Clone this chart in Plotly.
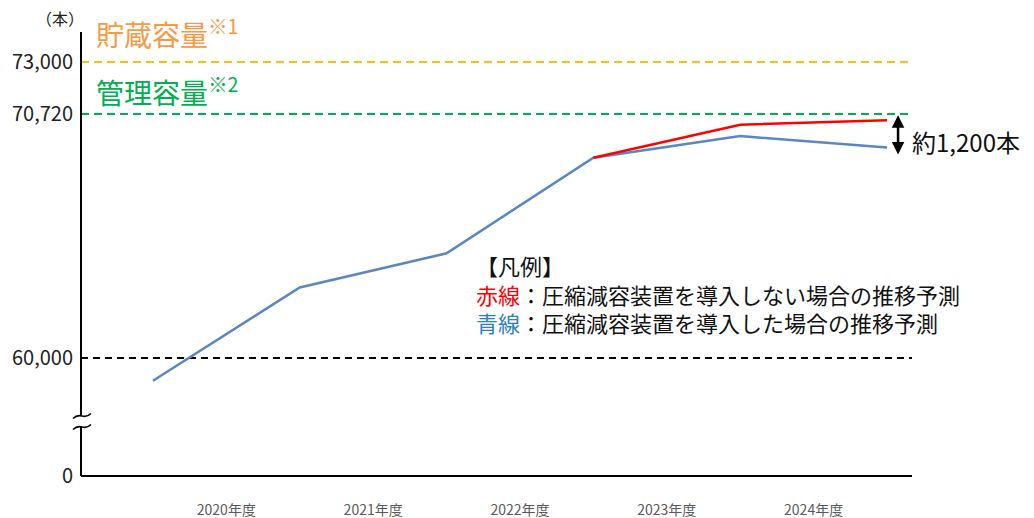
import plotly.graph_objects as go

# ---- data ----
years = ["2020年度", "2021年度", "2022年度", "2023年度", "2024年度"]
blue_values = [59000, 63100, 64600, 68800, 69750, 69250]   # with compression device
red_values = [None, None, None, 68800, 70250, 70450]       # without compression device
storage_capacity = 73000
management_capacity = 70720
base_line = 60000
y_tick_vals = [73000, 70720, 60000]
y_tick_text = ["73,000", "70,720", "60,000"]

# ---- geometry helpers (pixel -> paper) ----
W, H = 1034, 518
L, R, T, B = 81, 912, 32, 476
def px(p):
    return (p - L) / (R - L)
def py(p):
    return (B - p) / (B - T)

FONT = "Noto Sans CJK JP"

y_bottom = 54816
y_top = 74322
x_idx = list(range(len(blue_values)))

fig = go.Figure()

# reference lines
fig.add_shape(type="line", xref="paper", x0=0, x1=1, yref="y", y0=storage_capacity, y1=storage_capacity,
              line=dict(color="#FFC000", width=2, dash="8px,5px"), layer="below")
fig.add_shape(type="line", xref="paper", x0=0, x1=1, yref="y", y0=management_capacity, y1=management_capacity,
              line=dict(color="#00B050", width=2, dash="8px,5px"), layer="below")
fig.add_shape(type="line", xref="paper", x0=0, x1=1, yref="y", y0=base_line, y1=base_line,
              line=dict(color="#000000", width=1.8, dash="7px,5px"), layer="below")

fig.add_trace(go.Scatter(x=x_idx, y=blue_values, mode="lines",
                         line=dict(color="#5A86C2", width=2.5), showlegend=False, hoverinfo="skip"))
fig.add_trace(go.Scatter(x=x_idx, y=red_values, mode="lines",
                         line=dict(color="#FF0000", width=2.5), showlegend=False, hoverinfo="skip",
                         connectgaps=False))

# axis lines with break
ax = dict(color="#000000", width=2)
fig.add_shape(type="line", xref="paper", yref="paper", x0=0, x1=0, y0=py(T), y1=py(415), line=ax, layer="above")
fig.add_shape(type="line", xref="paper", yref="paper", x0=0, x1=0, y0=py(426), y1=py(B), line=ax, layer="above")
fig.add_shape(type="line", xref="paper", yref="paper", x0=0, x1=1, y0=0, y1=0, line=ax, layer="above")
for yb in (416, 427):
    path = "M {:.5f},{:.5f} Q {:.5f},{:.5f} {:.5f},{:.5f} T {:.5f},{:.5f}".format(
        px(73), py(yb + 2.5), px(77), py(yb - 1.5), px(82), py(yb), px(91), py(yb - 2.5))
    fig.add_shape(type="path", xref="paper", yref="paper", path=path,
                  line=dict(color="#000000", width=1.6), layer="above")

legend_text = ("【凡例】<br>"
               "<span style='color:#FF0000'>赤線</span>：圧縮減容装置を導入しない場合の推移予測<br>"
               "<span style='color:#2F7FC6'>青線</span>：圧縮減容装置を導入した場合の推移予測")

anns = []
anns.append(dict(text="（本）", x=px(60), y=py(18), xref="paper", yref="paper", showarrow=False,
                 font=dict(size=16, color="#222222", family=FONT), xanchor="center", yanchor="middle"))
anns.append(dict(text="貯蔵容量<sup>※1</sup>", x=px(94), y=py(32), xref="paper", yref="paper", showarrow=False,
                 font=dict(size=28, color="#F79A45", family=FONT), xanchor="left", yanchor="middle"))
anns.append(dict(text="管理容量<sup>※2</sup>", x=px(94), y=py(90), xref="paper", yref="paper", showarrow=False,
                 font=dict(size=28, color="#00B050", family=FONT), xanchor="left", yanchor="middle"))
anns.append(dict(text=legend_text, x=px(474), y=py(293), xref="paper", yref="paper", showarrow=False,
                 align="left", font=dict(size=22, color="#111111", family=FONT),
                 xanchor="left", yanchor="middle"))
anns.append(dict(text="約1,200本", x=px(910), y=py(141), xref="paper", yref="paper", showarrow=False,
                 font=dict(size=24, color="#111111", family=FONT), xanchor="left", yanchor="middle"))
# double-headed difference arrow between red and blue end points
anns.append(dict(text="", x=5.075, y=red_values[-1] + 220, ax=5.075, ay=blue_values[-1] - 380,
                 xref="x", yref="y", axref="x", ayref="y", showarrow=True,
                 arrowhead=2, startarrowhead=2, arrowside="end+start", arrowsize=1.0, startarrowsize=1.0,
                 arrowwidth=2.5, arrowcolor="#000000"))

fig.update_layout(
    width=W, height=H, autosize=False,
    margin=dict(l=L, r=W - R, t=T, b=H - B, pad=0),
    paper_bgcolor="white", plot_bgcolor="white",
    font=dict(family=FONT),
    annotations=anns,
    xaxis=dict(range=[-0.49, 5.17], showgrid=False, zeroline=False, showline=False, automargin=False,
               tickvals=[i + 0.5 for i in range(len(years))], ticktext=years,
               ticks="outside", ticklen=21, tickcolor="rgba(0,0,0,0)",
               tickfont=dict(size=14, color="#595959", family=FONT)),
    yaxis=dict(range=[y_bottom, y_top], showgrid=False, zeroline=False, showline=False, automargin=False,
               tickvals=y_tick_vals + [y_bottom + 5], ticktext=y_tick_text + ["0"],
               ticks="outside", ticklen=3, tickcolor="rgba(0,0,0,0)",
               tickfont=dict(size=20, color="#222222", family=FONT)),
)

fig.write_html("out.html", config={"displayModeBar": False},
               post_script="document.body.style.margin='0';document.body.style.overflow='hidden';")
